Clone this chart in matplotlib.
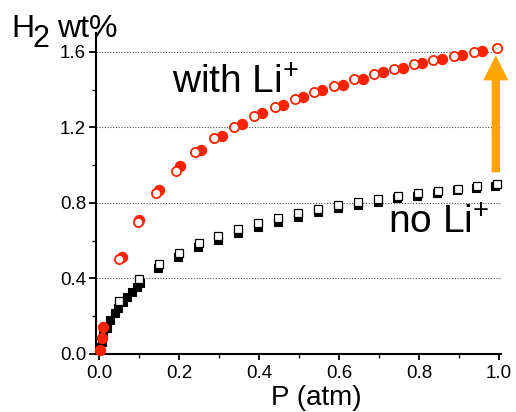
import numpy as np
import matplotlib
matplotlib.use("Agg")
import matplotlib.pyplot as plt
from matplotlib.ticker import MultipleLocator

plt.rcParams['font.family'] = ['Liberation Sans', 'DejaVu Sans']
plt.rcParams['mathtext.fontset'] = 'custom'
plt.rcParams['mathtext.rm'] = 'Liberation Sans'

# with Li+ : filled = adsorption, open = desorption
p_ads_li = [0.003, 0.007, 0.011, 0.057, 0.101, 0.150, 0.2025, 0.255, 0.3075, 0.3575, 0.408,
            0.460, 0.510, 0.558, 0.610, 0.660, 0.710, 0.760, 0.808, 0.858, 0.908, 0.958]
w_ads_li = [0.02, 0.085, 0.145, 0.512, 0.710, 0.870, 0.994, 1.082, 1.157, 1.217, 1.274,
            1.320, 1.362, 1.399, 1.427, 1.457, 1.492, 1.517, 1.543, 1.563, 1.586, 1.605]
p_des_li = [0.051, 0.097, 0.1425, 0.1925, 0.24, 0.2875, 0.3375, 0.3875, 0.44, 0.49,
            0.5375, 0.5875, 0.638, 0.6875, 0.7375, 0.7875, 0.836, 0.8875, 0.9375, 0.996]
w_des_li = [0.502, 0.701, 0.855, 0.971, 1.069, 1.146, 1.204, 1.263, 1.307, 1.353,
            1.388, 1.420, 1.455, 1.483, 1.510, 1.535, 1.558, 1.579, 1.598, 1.623]

# no Li+
p_ads_no = [0.0025, 0.007, 0.011, 0.019, 0.0275, 0.04, 0.048, 0.061, 0.069, 0.082, 0.094, 0.1025,
            0.148, 0.198, 0.248, 0.298, 0.348, 0.398, 0.447, 0.498, 0.548, 0.597, 0.648, 0.698,
            0.746, 0.796, 0.845, 0.894, 0.942, 0.991]
w_ads_no = [0.039, 0.065, 0.10, 0.136, 0.18, 0.216, 0.242, 0.277, 0.304, 0.33, 0.357, 0.375,
            0.454, 0.515, 0.565, 0.606, 0.642, 0.673, 0.700, 0.727, 0.750, 0.772, 0.790, 0.806,
            0.825, 0.838, 0.852, 0.866, 0.880, 0.890]
p_des_no = [0.051, 0.10, 0.15, 0.20, 0.25, 0.298, 0.348, 0.398, 0.447, 0.498,
            0.548, 0.597, 0.648, 0.698, 0.748, 0.798, 0.848, 0.897, 0.946, 0.994]
w_des_no = [0.281, 0.397, 0.477, 0.537, 0.586, 0.627, 0.661, 0.692, 0.719, 0.745,
            0.767, 0.790, 0.807, 0.821, 0.839, 0.851, 0.864, 0.876, 0.890, 0.900]

red = '#ff2200'
orange = '#ffa500'

fig = plt.figure(figsize=(5.16, 4.12), dpi=100)
W, H = 516, 412
ax = fig.add_axes([95.8 / W, (H - 354) / H, 405.2 / W, 321 / H])

ax.plot(p_ads_no, w_ads_no, 's', ms=5.8, color='black', mec='black', mew=0.8, zorder=3, clip_on=False)
ax.plot(p_des_no, w_des_no, 's', ms=5.8, mfc='white', mec='black', mew=0.9, zorder=4, clip_on=False)
ax.plot(p_ads_li, w_ads_li, 'o', ms=7.2, color=red, mec=red, zorder=5, clip_on=False)
ax.plot(p_des_li, w_des_li, 'o', ms=6.6, mfc='white', mec=red, mew=1.3, zorder=6, clip_on=False)

ax.set_xlim(-0.008, 1.005)
ax.set_ylim(0, 1.70)
ax.xaxis.set_major_locator(MultipleLocator(0.2))
ax.xaxis.set_minor_locator(MultipleLocator(0.1))
ax.yaxis.set_major_locator(MultipleLocator(0.4))
ax.yaxis.set_minor_locator(MultipleLocator(0.2))
ax.set_xticks([0, 0.2, 0.4, 0.6, 0.8, 1.0], ['0.0', '0.2', '0.4', '0.6', '0.8', '1.0'])
ax.set_yticks([0, 0.4, 0.8, 1.2, 1.6], ['0.0', '0.4', '0.8', '1.2', '1.6'])

for s in ['top', 'right']:
    ax.spines[s].set_visible(False)
for s in ['left', 'bottom']:
    ax.spines[s].set_linewidth(1.5)
ax.tick_params(which='major', width=1.3, labelsize=13.5)
ax.tick_params(axis='y', which='major', length=5, pad=2)
ax.tick_params(axis='y', which='minor', length=3, width=1.0)
ax.tick_params(axis='x', which='major', length=4, pad=4)
ax.tick_params(axis='x', which='minor', length=3, width=1.0)
ax.yaxis.grid(True, which='major', linestyle=(0, (1, 1.5)), color='0.3', linewidth=0.8)
ax.set_axisbelow(True)

ax.text(0.1825, 1.381, r'with Li$^{+}$', fontsize=28, va='baseline', ha='left')
ax.text(0.722, 0.639, r'no Li$^{+}$', fontsize=28, va='baseline', ha='left')

ax.annotate('', xy=(0.992, 1.574), xytext=(0.992, 0.966),
            arrowprops=dict(arrowstyle='simple,head_length=1.65,head_width=1.65,tail_width=0.5',
                            mutation_scale=10, color=orange, shrinkA=0, shrinkB=0), zorder=7)

# y label pieces placed in figure pixels
fig.text(11 / W, 1 - 37 / H, 'H', fontsize=23, va='baseline', ha='left')
fig.text(32 / W, 1 - 47 / H, '2', fontsize=22, va='baseline', ha='left')
fig.text(57 / W, 1 - 37 / H, 'wt%', fontsize=23, va='baseline', ha='left')
fig.text(316.5 / W, 1 - 405 / H, 'P (atm)', fontsize=20, va='baseline', ha='center')

fig.savefig('out.png', dpi=100)
